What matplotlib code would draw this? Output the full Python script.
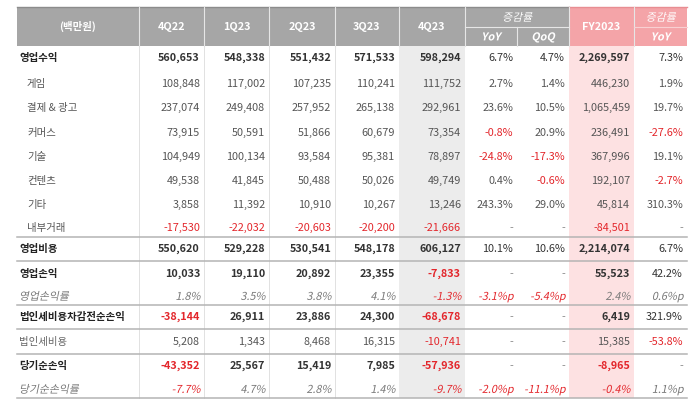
import matplotlib.pyplot as plt
from matplotlib.patches import Rectangle, PathPatch
from matplotlib.textpath import TextPath
from matplotlib.font_manager import FontProperties
from matplotlib.transforms import Affine2D

plt.rcParams['font.family'] = ['Noto Sans CJK KR', 'DejaVu Sans']

# 데이터 (백만원)
labels = ['영업수익', '게임', '결제 & 광고', '커머스', '기술', '컨텐츠', '기타', '내부거래',
          '영업비용', '영업손익', '영업손익률', '법인세비용차감전순손익', '법인세비용',
          '당기순손익', '당기순손익률']
headers = ['4Q22', '1Q23', '2Q23', '3Q23', '4Q23']
q4_22 = [560653, 108848, 237074, 73915, 104949, 49538, 3858, -17530, 550620, 10033, 1.8, -38144, 5208, -43352, -7.7]
q1_23 = [548338, 117002, 249408, 50591, 100134, 41845, 11392, -22032, 529228, 19110, 3.5, 26911, 1343, 25567, 4.7]
q2_23 = [551432, 107235, 257952, 51866, 93584, 50488, 10910, -20603, 530541, 20892, 3.8, 23886, 8468, 15419, 2.8]
q3_23 = [571533, 110241, 265138, 60679, 95381, 50026, 10267, -20200, 548178, 23355, 4.1, 24300, 16315, 7985, 1.4]
q4_23 = [598294, 111752, 292961, 73354, 78897, 49749, 13246, -21666, 606127, -7833, -1.3, -68678, -10741, -57936, -9.7]
yoy = [6.7, 2.7, 23.6, -0.8, -24.8, 0.4, 243.3, None, 10.1, None, -3.1, None, None, None, -2.0]
qoq = [4.7, 1.4, 10.5, 20.9, -17.3, -0.6, 29.0, None, 10.6, None, -5.4, None, None, None, -11.1]
fy2023 = [2269597, 446230, 1065459, 236491, 367996, 192107, 45814, -84501, 2214074, 55523, 2.4, 6419, 15385, -8965, -0.4]
fy_yoy = [7.3, 1.9, 19.7, -27.6, 19.1, -2.7, 310.3, None, 6.7, 42.2, 0.6, 321.9, -53.8, None, 1.1]

bold_rows = [0, 8, 9, 11, 13]
sub_rows = [1, 2, 3, 4, 5, 6, 7]
ratio_rows = [10, 14]

# 레이아웃 (픽셀)
col_x = [17, 139, 204, 269, 335, 399, 465, 517, 569, 634, 687]
row_y = [58, 84, 108, 133, 157, 181, 205, 228, 249, 274, 296, 317, 342, 366, 389]
hlines = [237, 261, 305, 329, 354, 398]
top, mid, hbot, bot = 7, 27, 46, 398

RED = '#e3262b'
HEAD = '#a6a6a6'
PINK = '#f4a4a8'
FS = 7.8

fig = plt.figure(figsize=(7, 4.05), dpi=100)
ax = fig.add_axes([0, 0, 1, 1])
ax.set_xlim(0, 700)
ax.set_ylim(405, 0)
ax.axis('off')


def slanted(x, y, s, color, size=FS, weight='normal', ha='left'):
    # 한글 폰트에 이탤릭이 없어서 직접 기울임
    fp = FontProperties(family='Noto Sans CJK KR', weight=weight)
    tp = TextPath((0, 0), s, prop=fp, size=size)
    k = 100 / 72
    w = tp.get_extents().x1 * k
    if ha == 'right':
        x0 = x - w
    elif ha == 'center':
        x0 = x - w / 2
    else:
        x0 = x
    tr = Affine2D().skew_deg(12, 0).scale(k, -k).translate(x0, y + 0.36 * size * k)
    ax.add_patch(PathPatch(tr.transform_path(tp), fc=color, ec='none', lw=0))


# 강조 컬럼 배경
ax.add_patch(Rectangle((col_x[5], hbot), col_x[6] - col_x[5], bot - hbot, color='#ececec', lw=0))
ax.add_patch(Rectangle((col_x[8], hbot), col_x[9] - col_x[8], bot - hbot, color='#fde1e2', lw=0))

# 헤더
ax.add_patch(Rectangle((col_x[0], top), col_x[8] - col_x[0], hbot - top, color=HEAD, lw=0))
ax.add_patch(Rectangle((col_x[8], top), col_x[10] - col_x[8], hbot - top, color=PINK, lw=0))
ax.plot([col_x[0], col_x[8]], [top, top], color='#8c8c8c', lw=1)
ax.plot([col_x[8], col_x[10]], [top, top], color='#e88d92', lw=1)
for x in col_x[1:7] + [col_x[8], col_x[9]]:
    ax.plot([x, x], [top, hbot], color='#e6e6e6', lw=0.8)
ax.plot([col_x[7], col_x[7]], [mid, hbot], color='#e6e6e6', lw=0.8)
ax.plot([col_x[6], col_x[8]], [mid, mid], color='#e6e6e6', lw=0.8)
ax.plot([col_x[9], col_x[10]], [mid, mid], color='#f8d0d2', lw=0.8)

hy = (top + hbot) / 2
ax.text((col_x[0] + col_x[1]) / 2, hy, '(백만원)', color='white', fontsize=7.5,
        fontweight='bold', ha='center', va='center')
for i, h in enumerate(headers):
    ax.text((col_x[i + 1] + col_x[i + 2]) / 2, hy, h, color='white', fontsize=FS,
            fontweight='bold', ha='center', va='center')
ax.text((col_x[8] + col_x[9]) / 2, hy, 'FY2023', color='white', fontsize=FS,
        fontweight='bold', ha='center', va='center')
slanted((col_x[6] + col_x[8]) / 2, (top + mid) / 2, '증감률', 'white', ha='center')
slanted((col_x[9] + col_x[10]) / 2, (top + mid) / 2, '증감률', 'white', ha='center')
for x0, x1, t in [(col_x[6], col_x[7], 'YoY'), (col_x[7], col_x[8], 'QoQ'), (col_x[9], col_x[10], 'YoY')]:
    slanted((x0 + x1) / 2, (mid + hbot) / 2, t, 'white', weight='bold', ha='center')

# 본문 세로선
for x in col_x[1:5]:
    ax.plot([x, x], [hbot, bot], color='#dcdcdc', lw=0.6)
# 본문 가로선
for y in hlines:
    ax.plot([col_x[0], col_x[10]], [y, y], color='#b4b4b4', lw=1.1)


def fmt_num(v, ratio):
    if v is None:
        return '-'
    if ratio:
        return f'{v:.1f}%'
    return f'{v:,}'


def fmt_pct(v, ratio):
    if v is None:
        return '-'
    return f'{v:.1f}%p' if ratio else f'{v:.1f}%'


columns = [q4_22, q1_23, q2_23, q3_23, q4_23, yoy, qoq, fy2023, fy_yoy]
for r, lab in enumerate(labels):
    y = row_y[r]
    ratio = r in ratio_rows
    bold = r in bold_rows
    if bold:
        lc, weight, lx = '#222222', 'bold', 19
    elif ratio:
        lc, weight, lx = '#777777', 'normal', 19
    elif r in sub_rows:
        lc, weight, lx = '#555555', 'normal', 27
    else:
        lc, weight, lx = '#666666', 'normal', 19
    if ratio:
        slanted(lx, y, lab, lc)
    else:
        ax.text(lx, y, lab, color=lc, fontsize=7.5, fontweight=weight,
                ha='left', va='center')
    for c, vals in enumerate(columns):
        v = vals[r]
        if c in (5, 6, 8):
            s = fmt_pct(v, ratio)
            w = 'normal'
        else:
            s = fmt_num(v, ratio)
            w = weight
        if v is None:
            color = '#888888'
        elif v < 0:
            color = RED
        elif bold:
            color = '#333333'
        elif ratio:
            color = '#777777'
        else:
            color = '#555555'
        xr = col_x[c + 2] - 4
        if ratio and v is not None:
            slanted(xr, y, s, color, ha='right')
        else:
            ax.text(xr, y, s, color=color, fontsize=FS, fontweight=w,
                    ha='right', va='center')

fig.savefig('out.png', dpi=100)
